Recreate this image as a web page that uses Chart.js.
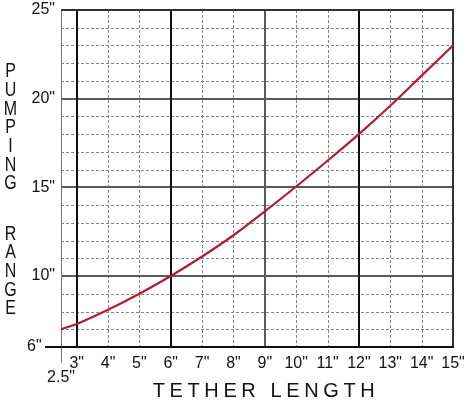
<!DOCTYPE html>
<html>
<head>
<meta charset="utf-8">
<script src="https://cdn.jsdelivr.net/npm/chart.js@4"></script>
<style>
  body{margin:0;background:#fff}
  #wrap{width:468px;height:401px}
</style>
</head>
<body>
<div id="wrap"><canvas id="pumpChart" width="468" height="401"></canvas></div>
<script>
// tether length (inches) vs pumping range (inches)
const tetherLength = [2.5, 3, 4, 5, 6, 7, 8, 9, 10, 11, 12, 13, 14, 15]
const pumpingRange = [7.0, 7.3, 8.1, 9.0, 10.0, 11.1, 12.3, 13.65, 15.05, 16.5, 18.0, 19.6, 21.3, 23.0]

const xTicks = [2.5, 3, 4, 5, 6, 7, 8, 9, 10, 11, 12, 13, 14, 15]
const yTicks = [6, 10, 15, 20, 25]
const xMajor = [3, 6, 12]
const xMid = [9]
const yMajor = [10, 15, 20]

const xTitle = "TETHER LENGTH"
const yTitle = ["PUMPING", "RANGE"]

const FONT = "'Liberation Sans', Arial, Helvetica, sans-serif"

const paperGrid = {
  id: "paperGrid",
  beforeDatasetsDraw(chart){
    const {ctx, chartArea:a, scales:{x, y}} = chart
    ctx.save()
    // dashed minor lines
    ctx.strokeStyle = "#858585"
    ctx.lineWidth = 1
    ctx.setLineDash([3, 2])
    for(let v = 7; v < 25; v++){
      if(yMajor.includes(v)) continue
      let py = Math.round(y.getPixelForValue(v)) + 0.5
      ctx.beginPath(); ctx.moveTo(a.left, py); ctx.lineTo(a.right, py); ctx.stroke()
    }
    for(let v = 4; v < 15; v++){
      if(xMajor.includes(v) || xMid.includes(v)) continue
      let px = Math.round(x.getPixelForValue(v)) + 0.5
      ctx.beginPath(); ctx.moveTo(px, a.top); ctx.lineTo(px, a.bottom); ctx.stroke()
    }
    ctx.setLineDash([])
    // solid horizontal majors
    ctx.strokeStyle = "#5a5a5a"
    ctx.lineWidth = 2
    yMajor.forEach(v=>{
      let py = Math.round(y.getPixelForValue(v))
      ctx.beginPath(); ctx.moveTo(a.left, py); ctx.lineTo(a.right, py); ctx.stroke()
    })
    xMid.forEach(v=>{
      let px = Math.round(x.getPixelForValue(v))
      ctx.beginPath(); ctx.moveTo(px, a.top); ctx.lineTo(px, a.bottom); ctx.stroke()
    })
    // solid vertical majors
    ctx.strokeStyle = "#111"
    xMajor.forEach(v=>{
      let px = Math.round(x.getPixelForValue(v))
      ctx.beginPath(); ctx.moveTo(px, a.top); ctx.lineTo(px, a.bottom); ctx.stroke()
    })
    // left edge (2.5") runs past the axis
    ctx.strokeStyle = "#777"
    ctx.lineWidth = 1
    let lx = Math.round(x.getPixelForValue(2.5)) + 0.5
    ctx.beginPath(); ctx.moveTo(lx, a.top); ctx.lineTo(lx, a.bottom + 16); ctx.stroke()
    // top and right border
    ctx.strokeStyle = "#333"
    ctx.lineWidth = 2
    ctx.beginPath()
    ctx.moveTo(a.left, a.top); ctx.lineTo(a.right, a.top); ctx.lineTo(a.right, a.bottom)
    ctx.stroke()
    // bottom axis, sticks out to the left
    ctx.strokeStyle = "#111"
    ctx.beginPath(); ctx.moveTo(a.left - 16, a.bottom); ctx.lineTo(a.right + 1, a.bottom); ctx.stroke()
    ctx.restore()
  },
  afterDraw(chart){
    const {ctx} = chart
    ctx.save()
    ctx.fillStyle = "#111"
    ctx.textAlign = "center"
    ctx.textBaseline = "middle"
    ctx.font = "20px " + FONT
    // stacked letters of the y title
    const starts = [71.5, 234]
    const steps = [18.7, 18.6]
    yTitle.forEach((word, w)=>{
      word.split("").forEach((ch, i)=>{
        ctx.save()
        ctx.translate(10.5, starts[w] + i*steps[w])
        ctx.scale(0.8, 1.05)
        ctx.fillText(ch, 0, 0)
        ctx.restore()
      })
    })
    // x title, spread out
    ctx.textBaseline = "alphabetic"
    ctx.letterSpacing = "4.6px"
    ctx.fillText(xTitle, 266, 397)
    ctx.restore()
  }
}

new Chart("pumpChart", {
  type: "line",
  data: {
    datasets: [{
      data: tetherLength.map((v, i)=>({x: v, y: pumpingRange[i]})),
      borderColor: "#b01e2f",
      borderWidth: 2.2,
      pointRadius: 0,
      cubicInterpolationMode: "monotone",
      fill: false
    }]
  },
  options: {
    responsive: false,
    animation: false,
    layout: {padding: {left: 0, top: 10, right: 15, bottom: 0}},
    plugins: {legend: {display: false}, tooltip: {enabled: false}},
    scales: {
      x: {
        type: "linear",
        min: 2.5,
        max: 15,
        afterBuildTicks: s=>{ s.ticks = xTicks.map(v=>({value: v})) },
        afterFit: s=>{ s.height = 54; s.paddingLeft = 0; s.paddingRight = 0 },
        grid: {display: false, drawTicks: false},
        border: {display: false},
        ticks: {
          autoSkip: false,
          maxRotation: 0,
          padding: 9,
          color: "#111",
          font: {size: 16, family: FONT, lineHeight: 0.9},
          callback: v=> v === 2.5 ? ["", '2.5"'] : v + '"'
        }
      },
      y: {
        type: "linear",
        min: 6,
        max: 25,
        afterBuildTicks: s=>{ s.ticks = yTicks.map(v=>({value: v})) },
        afterFit: s=>{ s.width = 61; s.paddingTop = 0; s.paddingBottom = 0 },
        grid: {display: false, drawTicks: false},
        border: {display: false},
        ticks: {
          autoSkip: false,
          padding: 6,
          color: "#111",
          font: {size: 16, family: FONT},
          callback: v=> v === 6 ? '6"   ' : v + '"'
        }
      }
    }
  },
  plugins: [paperGrid]
})
</script>
</body>
</html>
